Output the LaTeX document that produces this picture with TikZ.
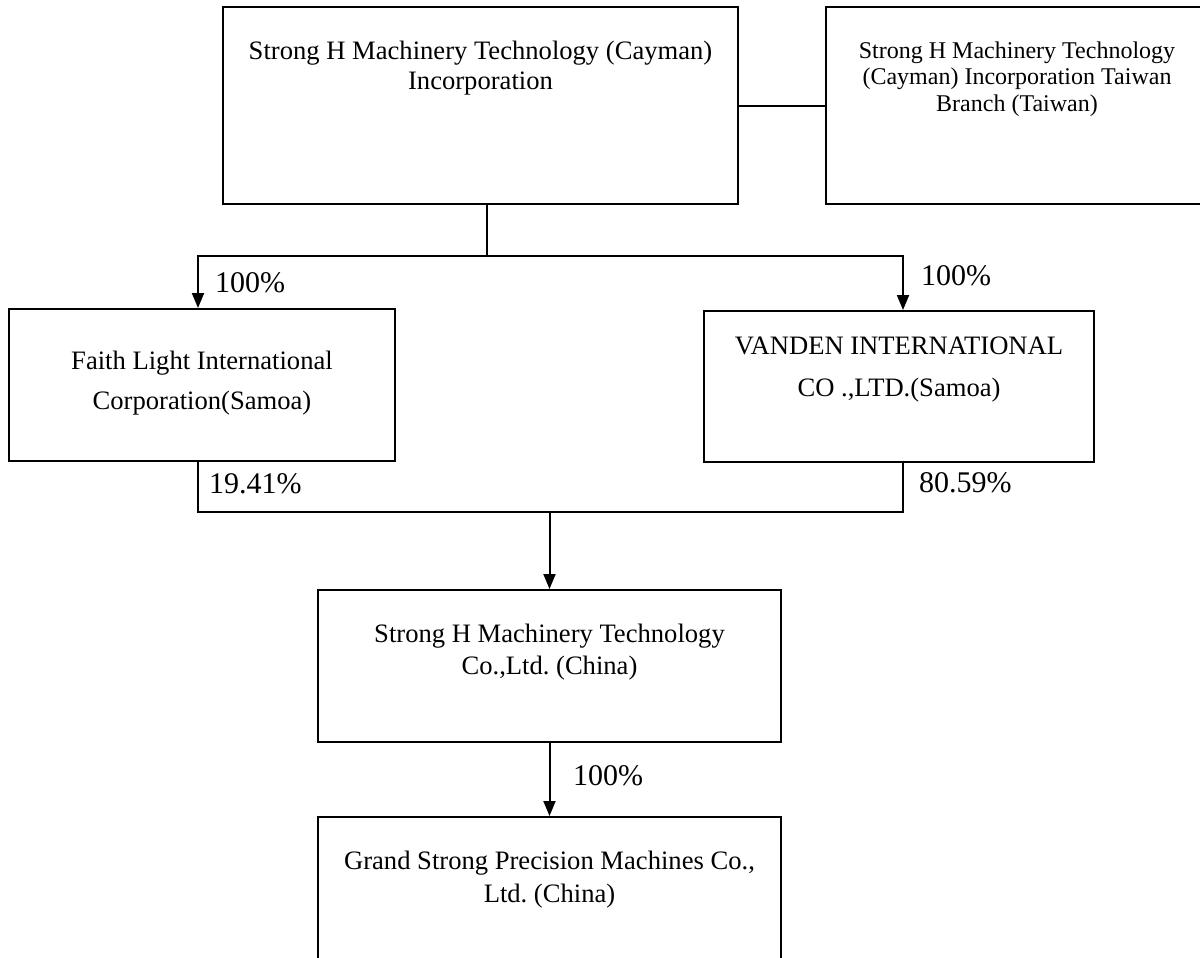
\documentclass[tikz,border=0pt]{standalone}
\usepackage{fontspec}
\setmainfont{Liberation Serif}
\frenchspacing
\usetikzlibrary{arrows.meta}
\usetikzlibrary{positioning}

\tikzset{
  orgbox/.style={draw, line width=1pt, anchor=north, inner sep=0pt, align=center,
    font=\fontsize{13.3}{16}\selectfont},
  share/.style={anchor=base west, inner sep=0pt, font=\fontsize{15}{18}\selectfont},
}

\begin{document}
\begin{tikzpicture}[x=0.5pt, y=-0.5pt, line width=1pt, >={Triangle[length=7.5pt, width=6pt]}]
    \useasboundingbox (0,0) rectangle (1200,958);

    % companies
    \node[orgbox, minimum width=257.5pt, text height=41.5pt, text depth=57pt, font=\fontsize{13.3}{15}\selectfont] (cayman) at (480.5,6) {Strong H Machinery Technology (Cayman)\\Incorporation};
    \node[orgbox, minimum width=191pt, text height=52pt, text depth=46.5pt, font=\fontsize{12}{13.25}\selectfont] (branch) at (1017,6) {Strong H Machinery Technology\\(Cayman) Incorporation Taiwan\\Branch (Taiwan)};
    \node[orgbox, minimum width=193pt, text height=50pt, text depth=26pt, font=\fontsize{13.3}{20}\selectfont] (faith) at (202,308) {Faith Light International\\Corporation(Samoa)};
    \node[orgbox, minimum width=195pt, text height=42.5pt, text depth=33pt, font=\fontsize{13.3}{21}\selectfont] (vanden) at (899,310) {VANDEN INTERNATIONAL\\CO .,LTD.(Samoa)};
    \node[orgbox, minimum width=231.5pt, text height=42pt, text depth=34pt] (china) at (549.5,589) {Strong H Machinery Technology\\Co.,Ltd. (China)};
    \node[orgbox, minimum width=231.5pt, text height=42.5pt, text depth=33.5pt, font=\fontsize{13.3}{16.5}\selectfont] (grand) at (549.5,816) {Grand Strong Precision Machines Co.,\\Ltd. (China)};

    % bus points
    \coordinate (topbus) at (487,256);
    \coordinate (midbus) at (549.5,512);

    \draw (cayman) -- (branch);
    \draw (cayman.south -| topbus) -- (topbus);
    \draw[->] (topbus) -| ([xshift=-2pt]faith.north);
    \draw[->] (topbus) -| ([xshift=2pt]vanden.north);
    \draw ([xshift=-2pt]faith.south) |- (midbus);
    \draw ([xshift=2pt]vanden.south) |- (midbus);
    \draw[->] (midbus) -- (china.north);
    \draw[->] (china) -- (grand);

    % shares
    \node[share] (faithshare) at (214,292) {100\%};
    \node[share] (vandenshare) at (920,285) {100\%};
    \node[share] (faithpart) at (208,493) {19.41\%};
    \node[share] (vandenpart) at (918,492) {80.59\%};
    \node[share] (grandshare) at (572,785) {100\%};
\end{tikzpicture}
\end{document}
